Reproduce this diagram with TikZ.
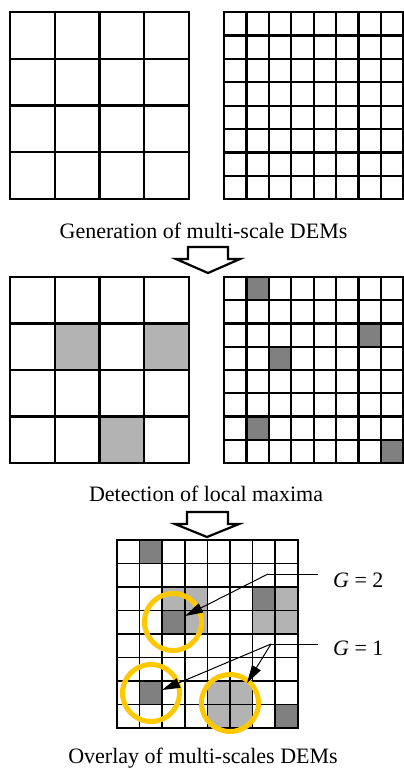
\documentclass[tikz,border=0pt]{standalone}
\usepackage{fontspec}
\setmainfont{Liberation Serif}
\usetikzlibrary{arrows.meta}

\definecolor{maxlight}{RGB}{179,179,179}
\definecolor{maxdark}{RGB}{128,128,128}
\definecolor{ring}{RGB}{255,200,0}

\begin{document}
\begin{tikzpicture}[
x = 1pt, y = -1pt,
  gridline/.style = {line width=2.2pt, line cap=rect},
  fineline/.style = {line width=1.7pt, line cap=rect},
     light/.style = {fill=maxlight},
      dark/.style = {fill=maxdark},
   caption/.style = {anchor=base, inner sep=0pt,
                     font=\fontsize{22}{26}\selectfont},
    glabel/.style = {anchor=base west, inner sep=0pt,
                     font=\fontsize{22}{26}\selectfont},
  blockarr/.style = {draw, fill=white, line width=2.2pt, line join=miter},
    circ/.style = {draw=ring, line width=5pt},
   pointer/.style = {line width=1pt, -{Triangle[length=18pt, width=10pt]}},
                    ]
\useasboundingbox (0,0) rectangle (404,769);

% coarse DEM
    \begin{scope}[shift={(10,12)}, x=44.75pt, y=-46.75pt]
\foreach \i in {0,...,4}
   {\draw[gridline] (\i,0) -- (\i,4);
    \draw[gridline] (0,\i) -- (4,\i);}
    \end{scope}
% fine DEM
    \begin{scope}[shift={(224,12)}, x=22.4pt, y=-23.4pt]
\foreach \i in {0,...,8}
   {\draw[gridline] (\i,0) -- (\i,8);
    \draw[gridline] (0,\i) -- (8,\i);}
    \end{scope}
\node[caption] (gen) at (203.5,238) {Generation of multi-scale DEMs};

\draw[blockarr] (188,247) -- (228,247) -- (228,259) -- (240,259)
                -- (208,273) -- (176,259) -- (188,259) -- cycle;

% coarse maxima
    \begin{scope}[shift={(10,277)}, x=44.75pt, y=-46.5pt]
\foreach \c/\r in {2/2,4/2,3/4}
    \fill[light] (\c-1,\r-1) rectangle ++(1,1);
\foreach \i in {0,...,4}
   {\draw[gridline] (\i,0) -- (\i,4);
    \draw[gridline] (0,\i) -- (4,\i);}
    \end{scope}
% fine maxima
    \begin{scope}[shift={(224,277)}, x=22.4pt, y=-23.25pt]
\foreach \c/\r in {2/1,7/3,3/4,2/7,8/8}
    \fill[dark] (\c-1,\r-1) rectangle ++(1,1);
\foreach \i in {0,...,8}
   {\draw[gridline] (\i,0) -- (\i,8);
    \draw[gridline] (0,\i) -- (8,\i);}
    \end{scope}
\node[caption] (det) at (206,501) {Detection of local maxima};

\draw[blockarr] (187,512) -- (228,512) -- (228,524) -- (239,524)
                -- (207,537) -- (175,524) -- (187,524) -- cycle;

% overlay
    \begin{scope}[shift={(117,540)}, x=22.6pt, y=-23.5pt]
\foreach \c/\r in {3/3,4/3,4/4,8/3,7/4,8/4,5/7,6/7,5/8,6/8}
    \fill[light] (\c-1,\r-1) rectangle ++(1,1);
\foreach \c/\r in {2/1,7/3,3/4,2/7,8/8}
    \fill[dark] (\c-1,\r-1) rectangle ++(1,1);
\foreach \i in {0,...,8}
   {\draw[fineline] (\i,0) -- (\i,8);
    \draw[fineline] (0,\i) -- (8,\i);}
    \end{scope}

\draw[circ] (173,622) circle [radius=28.5pt];
\draw[circ] (151,693) circle [radius=28.5pt];
\draw[circ] (230,703) circle [radius=28.5pt];

\node[glabel] (g2) at (333,587) {\textit{G} = 2};
\node[glabel] (g1) at (333,655) {\textit{G} = 1};

\coordinate (g2end)  at (318,574);
\coordinate (g2bend) at (268,574);
\coordinate (g2tip)  at (185,616);
\coordinate (g1end)  at (318,644);
\coordinate (g1bend) at (271,644);
\coordinate (g1tipa) at (162,690);
\coordinate (g1tipb) at (247,683);

\draw[line width=1pt] (g2end) -- (g2bend);
\draw[pointer] (g2bend) -- (g2tip);
\draw[line width=1pt] (g1end) -- (g1bend);
\draw[pointer] (g1bend) -- (g1tipa);
\draw[pointer] (g1bend) -- (g1tipb);

\node[caption] (over) at (203,763) {Overlay of multi-scales DEMs};
\end{tikzpicture}
\end{document}
